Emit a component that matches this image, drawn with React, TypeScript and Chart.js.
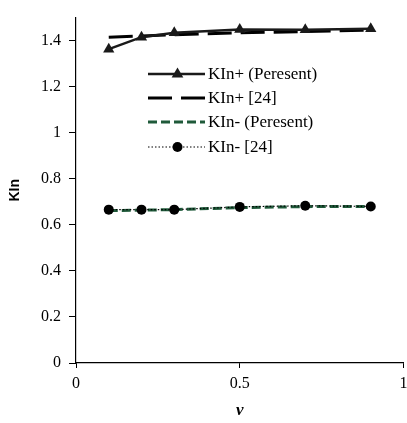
import React, { useEffect, useRef } from "react";
import { Chart, registerables } from "chart.js";

Chart.register(...registerables);

const nuValues = [0.1, 0.2, 0.3, 0.5, 0.7, 0.9];
const kinPlusPresent = [1.363, 1.415, 1.434, 1.448, 1.447, 1.452];
const kinPlusRef = [1.415, 1.42, 1.426, 1.434, 1.439, 1.446];
const kinMinusPresent = [0.662, 0.664, 0.666, 0.675, 0.679, 0.68];
const kinMinusRef = [0.666, 0.666, 0.666, 0.678, 0.683, 0.68];
const seriesLabels = ["KIn+ (Peresent)", "KIn+ [24]", "KIn- (Peresent)", "KIn- [24]"];
const yTickMax = 1.4;

const SERIF = "'Liberation Serif', 'Times New Roman', serif";

const legendPlugin = {
  id: "insideLegend",
  afterDraw(chart: any) {
    const ctx = chart.ctx as CanvasRenderingContext2D;
    const x0 = 148;
    const x1 = 205;
    const rowY = [74, 98, 122, 147];
    ctx.save();
    chart.data.datasets.forEach((ds: any, i: number) => {
      const y = rowY[i];
      ctx.beginPath();
      ctx.setLineDash(ds.borderDash || []);
      ctx.lineWidth = ds.borderWidth;
      ctx.strokeStyle = ds.borderColor;
      ctx.moveTo(x0, y);
      ctx.lineTo(x1, y);
      ctx.stroke();
      ctx.setLineDash([]);
      const cx = (x0 + x1) / 2 + 1;
      if (ds.pointRadius > 0) {
        ctx.fillStyle = ds.pointBackgroundColor;
        ctx.beginPath();
        if (ds.pointStyle === "triangle") {
          const r = ds.pointRadius;
          ctx.moveTo(cx, y - r);
          ctx.lineTo(cx + r * 0.9, y + r * 0.55);
          ctx.lineTo(cx - r * 0.9, y + r * 0.55);
          ctx.closePath();
        } else {
          ctx.arc(cx, y, ds.pointRadius, 0, Math.PI * 2);
        }
        ctx.fill();
      }
      ctx.fillStyle = "#000";
      ctx.font = `17px ${SERIF}`;
      ctx.textAlign = "left";
      ctx.textBaseline = "middle";
      ctx.fillText(ds.label, x1 + 3, y + 1);
    });
    ctx.restore();
  },
};

export default function App() {
  const ref = useRef<HTMLCanvasElement | null>(null);

  useEffect(() => {
    if (!ref.current) return;
    const mk = (ys: number[]) => nuValues.map((x, i) => ({ x, y: ys[i] }));
    const chart = new Chart(ref.current, {
      type: "line",
      data: {
        datasets: [
          {
            label: seriesLabels[0],
            data: mk(kinPlusPresent),
            borderColor: "#1a1a1a",
            borderWidth: 2.5,
            pointStyle: "triangle",
            pointRadius: 6.5,
            pointBackgroundColor: "#1a1a1a",
            pointBorderColor: "#1a1a1a",
            pointBorderWidth: 0,
            order: 1,
          },
          {
            label: seriesLabels[1],
            data: mk(kinPlusRef),
            borderColor: "#000",
            borderWidth: 3,
            borderDash: [24, 9],
            pointRadius: 0,
            order: 2,
          },
          {
            label: seriesLabels[2],
            data: mk(kinMinusPresent),
            borderColor: "#1f5a3a",
            borderWidth: 3,
            borderDash: [9, 4],
            pointRadius: 0,
            order: 3,
          },
          {
            label: seriesLabels[3],
            data: mk(kinMinusRef),
            borderColor: "#000",
            borderWidth: 1.2,
            borderDash: [1.5, 2],
            pointStyle: "circle",
            pointRadius: 5,
            pointBackgroundColor: "#000",
            pointBorderColor: "#000",
            pointBorderWidth: 0,
            order: 0,
          },
        ],
      } as any,
      options: {
        animation: false,
        responsive: false,
        layout: { padding: { top: 11, right: 1, left: 0, bottom: 0 } },
        plugins: {
          legend: { display: false },
          tooltip: { enabled: false },
        },
        scales: {
          x: {
            type: "linear",
            min: 0,
            max: 1,
            ticks: {
              stepSize: 0.5,
              color: "#000",
              font: { family: SERIF, size: 16 },
              padding: 6,
              maxRotation: 0,
              callback: (v: any) => String(Math.round(Number(v) * 10) / 10),
            },
            grid: {
              drawOnChartArea: false,
              drawTicks: true,
              tickLength: 5,
              color: "#000",
            },
            border: { color: "#000", width: 1.2 },
            title: {
              display: true,
              text: "ν",
              color: "#000",
              font: { family: SERIF, size: 17, weight: "bold", style: "italic" },
              padding: { top: 0, bottom: 2 },
            },
            afterFit: (s: any) => {
              s.height = 60;
              s.paddingLeft = 0;
              s.paddingRight = 0;
            },
          },
          y: {
            type: "linear",
            min: 0,
            max: 1.5,
            ticks: {
              stepSize: 0.2,
              includeBounds: false,
              color: "#000",
              font: { family: SERIF, size: 16 },
              padding: 8,
              callback: (v: any) => (Number(v) > yTickMax + 1e-9 ? "" : String(Math.round(Number(v) * 10) / 10)),
            },
            afterBuildTicks: (s: any) => {
              s.ticks = s.ticks.filter((t: any) => t.value <= yTickMax + 1e-9);
            },
            grid: {
              drawOnChartArea: false,
              drawTicks: true,
              tickLength: 7,
              color: "#000",
            },
            border: { color: "#000", width: 1.2 },
            title: {
              display: true,
              text: "KIn",
              color: "#000",
              font: { family: "'Liberation Sans', Arial, sans-serif", size: 14, weight: "bold" },
              padding: { top: 7, bottom: 0 },
            },
            afterFit: (s: any) => {
              s.width = 76;
            },
          },
        },
      } as any,
      plugins: [legendPlugin],
    });
    return () => chart.destroy();
  }, []);

  return (
    <div style={{ position: "fixed", left: 0, top: 0, width: 407, height: 423, background: "#fff", overflow: "hidden" }}>
      <canvas ref={ref} width={410} height={423} style={{ display: "block" }} />
    </div>
  );
}
